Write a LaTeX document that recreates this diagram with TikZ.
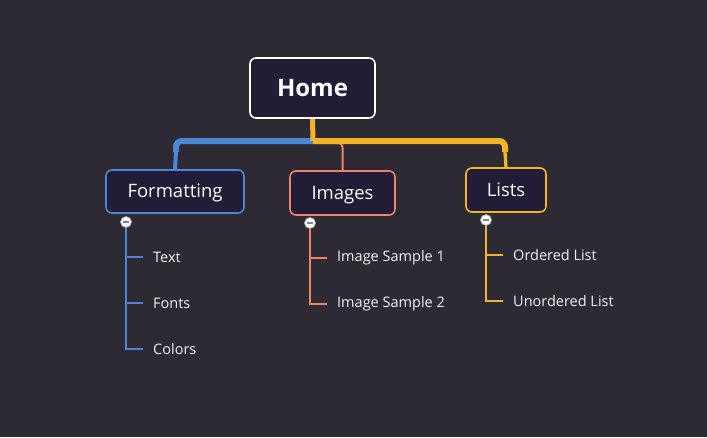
\documentclass[tikz,border=0pt]{standalone}
\usepackage{fontspec}
\setmainfont{Open Sans}
\definecolor{bg}{HTML}{2E2A33}
\definecolor{boxfill}{HTML}{221C36}
\definecolor{cblue}{HTML}{4B87D6}
\definecolor{csalmon}{HTML}{EC8468}
\definecolor{cyellow}{HTML}{F3B426}
\definecolor{txt}{HTML}{F2F2F2}
\begin{document}
\begin{tikzpicture}[x=1pt,y=-1pt,
  topic/.style={draw, fill=boxfill, rounded corners=6pt, line width=1.6pt,
    text=white, inner sep=0pt, text height=13pt, text depth=1pt,
    font=\fontsize{18.5}{20}\selectfont},
  subtopic/.style={anchor=west, inner xsep=10pt, inner ysep=2pt, text=txt,
    font=\fontsize{14.5}{16}\selectfont},
  toggle/.style={circle, draw=gray!70, fill=white, line width=0.8pt,
    minimum size=11pt, inner sep=0pt,
    path picture={\draw[gray, line width=1.6pt]
      ([xshift=-3pt]path picture bounding box.center) --
      ([xshift=3pt]path picture bounding box.center);}},
  subline/.style={line width=2pt}
]
\fill[bg] (0,0) rectangle (707,437);
\useasboundingbox (0,0) rectangle (707,437);

% main topics
\node[topic, draw=white, minimum width=125pt, minimum height=60pt,
  text height=17pt, text depth=0pt,
  font=\fontsize{24}{26}\selectfont\bfseries] (home) at (312.5,88) {Home};
\node[topic, draw=cblue, minimum width=138pt, minimum height=43pt] (fmt) at (175,191.5) {Formatting};
\node[topic, draw=csalmon, minimum width=105pt, minimum height=44pt] (img) at (342.5,193) {Images};
\node[topic, draw=cyellow, minimum width=80pt, minimum height=44pt] (lst) at (506,190) {Lists};

% branch joints
\coordinate (hub) at (313,141);
\coordinate (fmtbend) at (176,152);
\coordinate (lstbend) at (505,152);

% branches from Home
\draw[csalmon, line width=2pt, rounded corners=4pt] (hub) ++(0,2) -| (img.north);
\draw[cblue, line width=4pt] (fmtbend) -- (fmt.north);
\draw[cyellow, line width=3.3pt] (lstbend) -- (lst.north);
\draw[cblue, line width=6pt, rounded corners=6pt] (hub) -| (fmtbend);
\draw[cyellow, line width=6pt, rounded corners=6pt] (hub) -| (lstbend);
\draw[cyellow, line width=5pt] (home.south) -- (hub);

% Formatting subtopics
\node[subtopic] (t1) at (143,257) {Text};
\node[subtopic] (t2) at (143,303) {Fonts};
\node[subtopic] (t3) at (143,349) {Colors};
\node[toggle] (c1) at (126,222) {};
\draw[cblue, subline] (c1.south) |- (t3.west);
\draw[cblue, subline] (c1.south |- t1.west) -- (t1.west);
\draw[cblue, subline] (c1.south |- t2.west) -- (t2.west);

% Images subtopics
\node[subtopic] (i1) at (327,258) {Image Sample 1};
\node[subtopic] (i2) at (327,304) {Image Sample 2};
\node[toggle] (c2) at (310,223) {};
\draw[csalmon, subline] (c2.south) |- (i2.west);
\draw[csalmon, subline] (c2.south |- i1.west) -- (i1.west);

% Lists subtopics
\node[subtopic] (l1) at (503,255) {Ordered List};
\node[subtopic] (l2) at (503,301) {Unordered List};
\node[toggle] (c3) at (486,220) {};
\draw[cyellow, subline] (c3.south) |- (l2.west);
\draw[cyellow, subline] (c3.south |- l1.west) -- (l1.west);
\end{tikzpicture}
\end{document}
